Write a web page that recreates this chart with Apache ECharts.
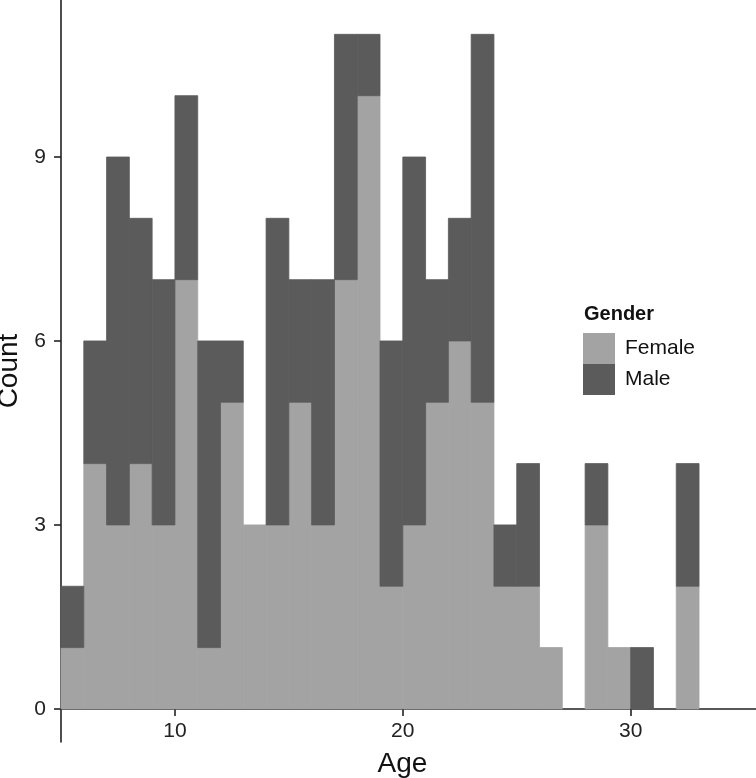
<!DOCTYPE html>
<html>
<head>
<meta charset="utf-8">
<script src="https://cdn.jsdelivr.net/npm/echarts@6/dist/echarts.min.js"></script>
<style>html,body{margin:0;padding:0;background:#fff}#c{width:756px;height:778px}</style>
</head>
<body>
<div id="c"></div>
<script>
// Histogram bins (age, width 1 year), counts stacked by gender
const binStarts = [5,6,7,8,9,10,11,12,13,14,15,16,17,18,19,20,21,22,23,24,25,26,27,28,29,30,31,32];
const binWidth = 1;
const femaleCounts = [1,4,3,4,3,7,1,5,3,3,5,3,7,10,2,3,5,6,5,2,2,1,0,3,1,0,0,2];
const maleCounts   = [1,2,6,4,4,3,5,1,0,5,2,4,4,1,4,6,2,2,6,1,2,0,0,1,0,1,0,2];
const xTicks = [10,20,30];
const yTicks = [0,3,6,9];
const seriesNames = ['Female','Male'];
const legendTitle = 'Gender';

const femaleData = [], maleData = [];
binStarts.forEach((s,i)=>{
  const e = s + binWidth;
  if (femaleCounts[i] > 0) femaleData.push([s, e, 0, femaleCounts[i]]);
  if (maleCounts[i] > 0) maleData.push([s, e, femaleCounts[i], femaleCounts[i] + maleCounts[i]]);
});

function renderRect(params, api){
  const a = api.coord([api.value(0), api.value(3)]);
  const b = api.coord([api.value(1), api.value(2)]);
  const st = api.style();
  st.stroke = st.fill; st.lineWidth = 0.8;
  return {type:'rect', shape:{x:a[0], y:a[1], width:b[0]-a[0], height:b[1]-a[1]}, style: st};
}

const chart = echarts.init(document.getElementById('c'), null, {renderer:'canvas'});
const fontFam = '"Liberation Sans", Arial, Helvetica, sans-serif';
chart.setOption({
  animation:false,
  backgroundColor:'#ffffff',
  textStyle:{fontFamily:fontFam},
  title:{text:legendTitle, left:584, top:304, padding:0, textStyle:{fontSize:20, fontWeight:'bold', color:'#111', fontFamily:fontFam}},
  legend:{
    data:seriesNames, orient:'vertical', left:583, top:333, padding:0,
    itemWidth:32, itemHeight:31, itemGap:0, icon:'rect',
    textStyle:{fontSize:21, color:'#111', fontFamily:fontFam, padding:[3,0,0,5]}
  },
  grid:{left:61, right:0, top:0, bottom:36, containLabel:false, outerBoundsMode:'none'},
  xAxis:{
    type:'value', min:5, max:35.5,
    name:'Age', nameLocation:'middle', nameGap:8,
    nameTextStyle:{fontSize:28, color:'#111', padding:[0,12,0,0]},
    axisLine:{show:true, onZero:true, lineStyle:{color:'#222', width:1.6}},
    axisTick:{show:true, length:7, customValues:xTicks, lineStyle:{color:'#222', width:1.6}},
    axisLabel:{customValues:xTicks, fontSize:21, color:'#222', margin:-21},
    splitLine:{show:false}
  },
  yAxis:{
    type:'value', min:-0.54, max:11.56,
    name:'Count', nameLocation:'middle', nameGap:34,
    nameTextStyle:{fontSize:28, color:'#111'},
    axisLine:{show:true, onZero:false, lineStyle:{color:'#222', width:1.6}},
    axisTick:{show:true, length:7, customValues:yTicks, lineStyle:{color:'#222', width:1.6}},
    axisLabel:{customValues:yTicks, fontSize:21, color:'#222', margin:15},
    splitLine:{show:false}
  },
  series:[
    {name:'Female', type:'custom', renderItem:renderRect, data:femaleData,
     encode:{x:[0,1], y:[2,3]}, itemStyle:{color:'#a3a3a3'}},
    {name:'Male', type:'custom', renderItem:renderRect, data:maleData,
     encode:{x:[0,1], y:[2,3]}, itemStyle:{color:'#5b5b5b'}}
  ]
});
</script>
</body>
</html>
